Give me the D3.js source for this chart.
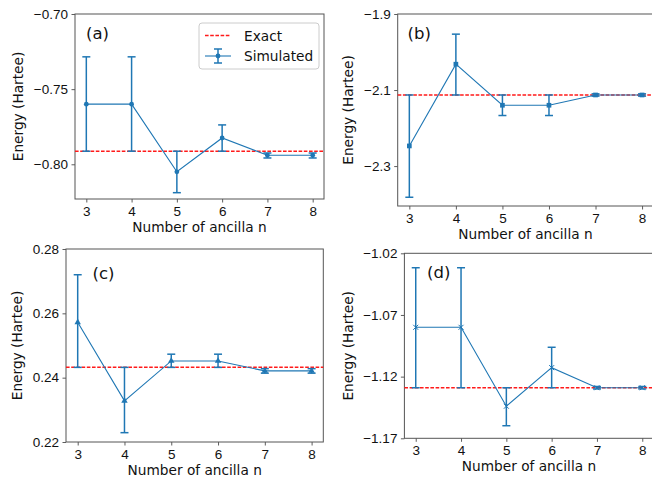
<!DOCTYPE html>
<html>
<head>
<meta charset="utf-8">
<script src="https://cdn.jsdelivr.net/npm/d3@7"></script>
<style>
  body { margin: 0; background: #fff; }
  svg { display: block; font-family: "DejaVu Sans", sans-serif; }
</style>
</head>
<body>
<svg id="chart" width="652" height="479"></svg>
<script>
// number of ancilla qubits (x axis, shared)
const ancilla = [3, 4, 5, 6, 7, 8];

// (a)
const exactA = -0.7913;
const simA = [-0.760, -0.760, -0.805, -0.7825, -0.794, -0.794];
const lowA = [-0.7913, -0.7913, -0.8189, -0.7913, -0.7958, -0.7958];
const highA = [-0.7285, -0.7285, -0.7913, -0.7738, -0.7925, -0.7925];
const ticksA = [-0.70, -0.75, -0.80];

// (b)
const exactB = -2.113;
const simB = [-2.247, -2.032, -2.140, -2.140, -2.113, -2.113];
const lowB = [-2.382, -2.113, -2.167, -2.167, -2.116, -2.116];
const highB = [-2.113, -1.953, -2.113, -2.113, -2.110, -2.110];
const ticksB = [-1.9, -2.1, -2.3];

// (c)
const exactC = 0.2432;
const simC = [0.2572, 0.2328, 0.2452, 0.2452, 0.2421, 0.2421];
const lowC = [0.2432, 0.2229, 0.2432, 0.2432, 0.2414, 0.2414];
const highC = [0.2720, 0.2432, 0.2473, 0.2473, 0.2428, 0.2428];
const ticksC = [0.22, 0.24, 0.26, 0.28];

// (d)
const exactD = -1.129;
const simD = [-1.080, -1.080, -1.144, -1.1127, -1.129, -1.129];
const lowD = [-1.129, -1.129, -1.1598, -1.129, -1.130, -1.130];
const highD = [-1.0317, -1.0317, -1.129, -1.0962, -1.128, -1.128];
const ticksD = [-1.02, -1.07, -1.12, -1.17];

const blue = "#1f77b4";
const red = "#ff1a1a";
const svg = d3.select("#chart");

function drawPanel(p) {
    const x = d3.scaleLinear().domain([2.75, 8.25]).range([p.left, p.right]);
    const y = d3.scaleLinear().domain(p.yDomain).range([p.bottom, p.top]);
    const g = svg.append("g");

    // axes
    const xa = g.append("g")
        .attr("transform", `translate(0,${p.bottom})`)
        .call(d3.axisBottom(x).tickValues(ancilla).tickFormat(d3.format("d")).tickSize(3.5).tickPadding(3.5));
    const ya = g.append("g")
        .attr("transform", `translate(${p.left},0)`)
        .call(d3.axisLeft(y).tickValues(p.ticks).tickFormat(d3.format(p.fmt)).tickSize(3.5).tickPadding(3.5));
    [xa, ya].forEach(a => {
        a.select(".domain").remove();
        a.selectAll("line").attr("stroke", "#333").attr("stroke-width", 0.8);
        a.selectAll("text").attr("fill", "#111").style("font-size", "13.5px");
    });

    // frame
    g.append("rect")
        .attr("x", p.left).attr("y", p.top)
        .attr("width", p.right - p.left).attr("height", p.bottom - p.top)
        .attr("fill", "none").attr("stroke", "#555").attr("stroke-width", 1);

    // exact value
    g.append("line")
        .attr("x1", p.left).attr("x2", p.right)
        .attr("y1", y(p.exact)).attr("y2", y(p.exact))
        .attr("stroke", red).attr("stroke-width", 1.5)
        .attr("stroke-dasharray", "3.6,1.6");

    const pts = ancilla.map((n, i) => ({n: n, v: p.sim[i], lo: p.low[i], hi: p.high[i]}));

    // connecting line
    g.append("path")
        .datum(pts)
        .attr("fill", "none").attr("stroke", blue).attr("stroke-width", 1.1)
        .attr("d", d3.line().x(d => x(d.n)).y(d => y(d.v)));

    // error bars
    const eb = g.selectAll(".err").data(pts).enter().append("g").attr("class", "err");
    eb.append("line")
        .attr("x1", d => x(d.n)).attr("x2", d => x(d.n))
        .attr("y1", d => y(d.lo)).attr("y2", d => y(d.hi))
        .attr("stroke", blue).attr("stroke-width", 1.5);
    ["lo", "hi"].forEach(k => {
        eb.append("line")
            .attr("x1", d => x(d.n) - 4).attr("x2", d => x(d.n) + 4)
            .attr("y1", d => y(d[k])).attr("y2", d => y(d[k]))
            .attr("stroke", blue).attr("stroke-width", 1.5);
    });

    // markers
    const sym = {circle: d3.symbolCircle, square: d3.symbolSquare, triangle: d3.symbolTriangle, x: d3.symbolX}[p.marker];
    g.selectAll(".mk").data(pts).enter().append("path")
        .attr("class", "mk")
        .attr("transform", d => `translate(${x(d.n)},${y(d.v)})`)
        .attr("d", d3.symbol().type(sym).size(p.marker === "square" ? 22 : 18))
        .attr("fill", p.marker === "x" ? "none" : blue)
        .attr("stroke", blue).attr("stroke-width", p.marker === "x" ? 1 : 0);

    // labels
    g.append("text")
        .attr("x", p.xLabelX)
        .attr("y", p.xLabelY)
        .attr("text-anchor", "middle").attr("fill", "#111")
        .style("font-size", "13.7px")
        .text("Number of ancilla n");
    g.append("text")
        .attr("transform", `translate(${p.yLabelX},${(p.top + p.bottom) / 2}) rotate(-90)`)
        .attr("text-anchor", "middle").attr("dominant-baseline", "central").attr("fill", "#111")
        .style("font-size", "13.7px")
        .text("Energy (Hartee)");
    g.append("text")
        .attr("x", p.tagX).attr("y", p.tagY)
        .attr("dominant-baseline", "central").attr("fill", "#111")
        .style("font-size", "16.5px")
        .text(p.tag);

    return {x: x, y: y, g: g};
}

const a = drawPanel({left: 75, right: 324, top: 14, bottom: 199, yDomain: [-0.8231, -0.70],
    ticks: ticksA, fmt: ".2f", exact: exactA, sim: simA, low: lowA, high: highA, marker: "circle",
    xLabelX: 199.5, xLabelY: 232, yLabelX: 18, tag: "(a)", tagX: 86, tagY: 33});
drawPanel({left: 397.7, right: 653.7, top: 14, bottom: 206, yDomain: [-2.405, -1.9],
    ticks: ticksB, fmt: ".1f", exact: exactB, sim: simB, low: lowB, high: highB, marker: "square",
    xLabelX: 525.5, xLabelY: 239, yLabelX: 348, tag: "(b)", tagX: 407.5, tagY: 33});
drawPanel({left: 66, right: 323.3, top: 249, bottom: 442, yDomain: [0.22, 0.28],
    ticks: ticksC, fmt: ".2f", exact: exactC, sim: simC, low: lowC, high: highC, marker: "triangle",
    xLabelX: 194.7, xLabelY: 475, yLabelX: 17, tag: "(c)", tagX: 92.5, tagY: 273});
drawPanel({left: 404.4, right: 653.6, top: 253.3, bottom: 438.3, yDomain: [-1.17, -1.02],
    ticks: ticksD, fmt: ".2f", exact: exactD, sim: simD, low: lowD, high: highD, marker: "x",
    xLabelX: 529, xLabelY: 471, yLabelX: 348, tag: "(d)", tagX: 427, tagY: 272});

// legend in panel (a)
const leg = a.g.append("g").attr("transform", "translate(199,23)");
leg.append("rect")
    .attr("width", 120).attr("height", 46).attr("rx", 3)
    .attr("fill", "#fff").attr("fill-opacity", 0.8)
    .attr("stroke", "#ccc").attr("stroke-width", 1);
leg.append("line")
    .attr("x1", 6).attr("x2", 32).attr("y1", 12.5).attr("y2", 12.5)
    .attr("stroke", red).attr("stroke-width", 1.5).attr("stroke-dasharray", "3.6,1.6");
leg.append("line")
    .attr("x1", 6).attr("x2", 32).attr("y1", 33).attr("y2", 33)
    .attr("stroke", blue).attr("stroke-width", 1.1);
leg.append("line")
    .attr("x1", 19).attr("x2", 19).attr("y1", 26).attr("y2", 40)
    .attr("stroke", blue).attr("stroke-width", 1.5);
[26, 40].forEach(yy => leg.append("line")
    .attr("x1", 15).attr("x2", 23).attr("y1", yy).attr("y2", yy)
    .attr("stroke", blue).attr("stroke-width", 1.5));
leg.append("circle").attr("cx", 19).attr("cy", 33).attr("r", 2.4).attr("fill", blue);
leg.append("text").attr("x", 45).attr("y", 13).attr("dominant-baseline", "central")
    .attr("fill", "#111").style("font-size", "13.7px").text("Exact");
leg.append("text").attr("x", 45).attr("y", 33).attr("dominant-baseline", "central")
    .attr("fill", "#111").style("font-size", "13.7px").text("Simulated");
</script>
</body>
</html>
